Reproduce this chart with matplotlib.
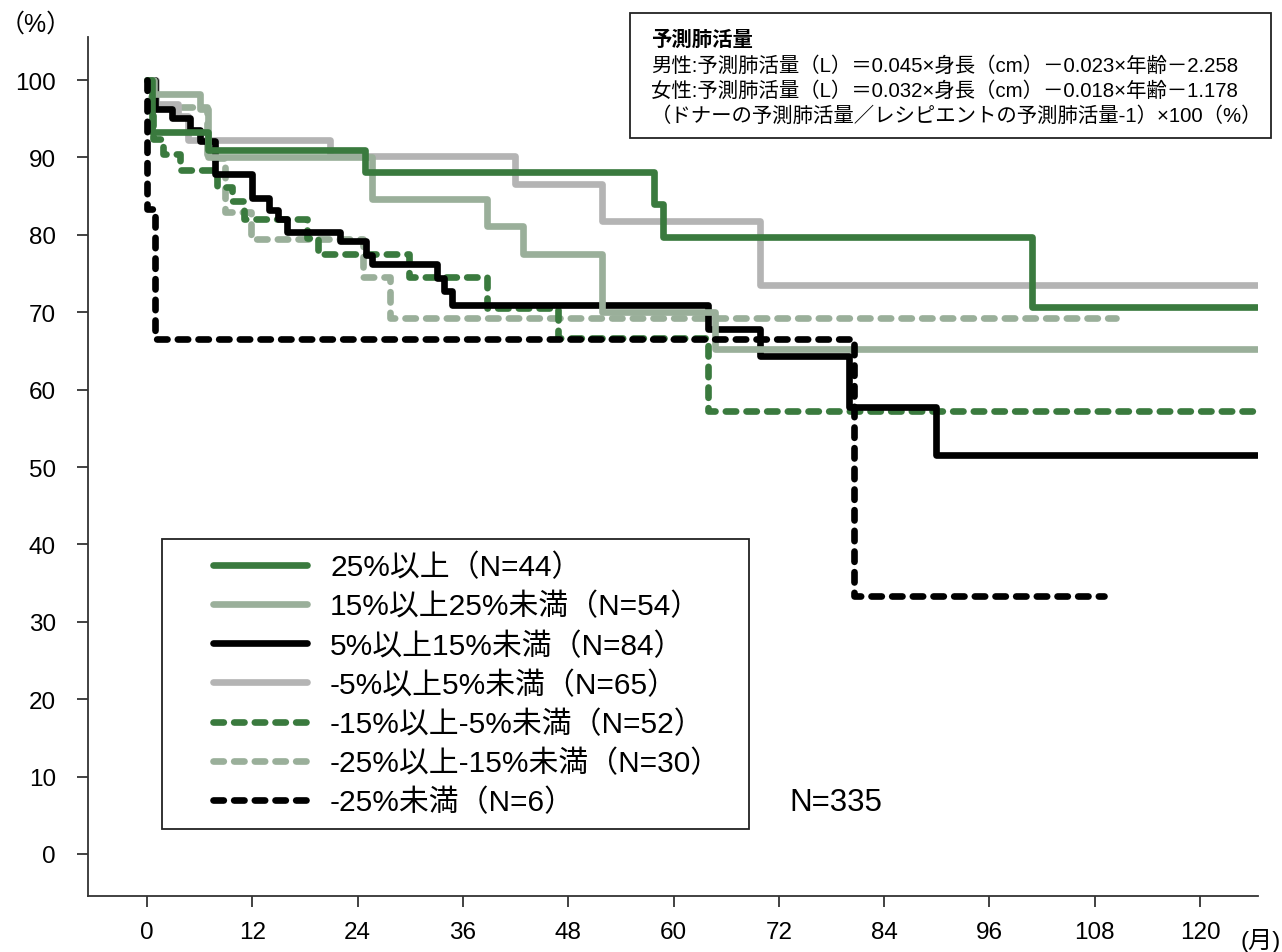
import matplotlib
matplotlib.use("Agg")
import matplotlib.pyplot as plt
from matplotlib.patches import Rectangle

plt.rcParams["font.family"] = ["Liberation Sans", "Noto Sans CJK JP"]

# 生存率 (%) vs 月, step-post
months_25 = [0, 0.6, 7.0, 24.9, 57.8, 58.8, 100.8, 126.5]
surv_25 = [100, 93.3, 90.9, 88.1, 84.0, 79.7, 70.7, 70.7]

months_15 = [0, 0.8, 6.0, 7.0, 25.6, 38.8, 42.8, 51.9, 64.7, 126.5]
surv_15 = [100, 98.2, 96.3, 90.0, 84.6, 81.2, 77.5, 70.0, 65.2, 65.2]

months_5 = [0, 0.9, 2.8, 4.9, 6.0, 7.7, 12.0, 13.9, 14.9, 15.9, 22.0,
            25.0, 25.6, 33.0, 33.9, 34.8, 63.9, 69.8, 80.0, 89.9, 126.5]
surv_5 = [100, 96.2, 95.1, 93.6, 92.1, 87.8, 84.7, 83.2, 82.0, 80.4, 79.2,
          77.4, 76.2, 74.4, 72.8, 70.9, 67.8, 64.4, 57.7, 51.6, 51.6]

months_m5 = [0, 1.0, 3.5, 4.7, 20.8, 41.9, 51.8, 69.8, 126.5]
surv_m5 = [100, 96.9, 95.4, 92.3, 90.2, 86.6, 81.8, 73.5, 73.5]

months_m15 = [0, 0.7, 1.8, 3.8, 8.0, 9.7, 11.0, 18.2, 19.5, 29.9, 38.8, 46.8, 63.9, 126.2]
surv_m15 = [100, 92.4, 90.4, 88.4, 86.2, 84.4, 82.0, 79.6, 77.5, 74.5, 70.6, 66.7, 57.2, 57.2]

months_m25 = [0, 0.5, 6.8, 8.9, 11.9, 24.6, 27.7, 110.4]
surv_m25 = [100, 96.5, 89.9, 82.9, 79.5, 74.5, 69.2, 69.2]

months_lt = [0, 0.05, 0.9, 80.6, 109.1]
surv_lt = [100, 83.3, 66.6, 33.3, 33.3]

labels = [
    "25%以上（N=44）",
    "15%以上25%未満（N=54）",
    "5%以上15%未満（N=84）",
    "-5%以上5%未満（N=65）",
    "-15%以上-5%未満（N=52）",
    "-25%以上-15%未満（N=30）",
    "-25%未満（N=6）",
]
x_ticks = list(range(0, 121, 12))
y_ticks = list(range(0, 101, 10))

GREEN = "#3a7a3e"
SAGE = "#9aaf9a"
GREY = "#b4b4b4"
BLACK = "#000000"

series = [
    (months_25, surv_25, GREEN, "-"),
    (months_15, surv_15, SAGE, "-"),
    (months_5, surv_5, BLACK, "-"),
    (months_m5, surv_m5, GREY, "-"),
    (months_m15, surv_m15, GREEN, "--"),
    (months_m25, surv_m25, SAGE, "--"),
    (months_lt, surv_lt, BLACK, "--"),
]

W, H = 1282, 953
fig = plt.figure(figsize=(W / 100, H / 100), dpi=100)
ax = fig.add_axes([88 / W, 1 - 897 / H, (1258 - 88) / W, (897 - 38) / H])

handles = []
for i, (mx, sy, col, ls) in enumerate(series):
    z = 3 + (len(series) - i)
    if ls == "--":
        (ln,) = ax.plot(mx, sy, drawstyle="steps-post", color=col, lw=4.8,
                        linestyle=(0, (1.55, 1.55)), dash_capstyle="round",
                        solid_capstyle="round", zorder=z)
    else:
        (ln,) = ax.plot(mx, sy, drawstyle="steps-post", color=col, lw=4.8,
                        solid_capstyle="round", solid_joinstyle="round", zorder=z)
    if i == len(series) - 1:
        ln.set_zorder(20)
    handles.append(ln)

ax.set_xlim(-6.72, 126.6)
ax.set_ylim(-5.43, 105.56)
ax.set_xticks(x_ticks)
ax.set_yticks(y_ticks)
for s in ["top", "right"]:
    ax.spines[s].set_visible(False)
for s in ["left", "bottom"]:
    ax.spines[s].set_color("#333333")
    ax.spines[s].set_linewidth(1.3)
ax.tick_params(axis="both", direction="out", length=8, width=1.3, color="#333333", labelsize=17.5)
ax.tick_params(axis="y", pad=15)
ax.tick_params(axis="x", pad=10)

leg = ax.legend(handles, labels, loc="upper left", bbox_to_anchor=(213 / W, 1 - 554 / H),
                bbox_transform=fig.transFigure, frameon=False, fontsize=21.5,
                handlelength=3.15, handletextpad=0.77, labelspacing=0.36,
                borderpad=0, borderaxespad=0)
fig.add_artist(Rectangle((162 / W, 1 - 830 / H), (749 - 162) / W, (830 - 540) / H,
                         transform=fig.transFigure, fill=False, ec="#222222", lw=1.3))

fig.text(836 / W, 1 - 803 / H, "N=335", fontsize=22.5, ha="center", va="center")
fig.text(0, 1 - 25 / H, "（%）", fontsize=18, ha="left", va="center")
fig.text(1281 / W, 1 - 941 / H, "(月)", fontsize=17.5, ha="right", va="center")

# 予測肺活量の式
fig.add_artist(Rectangle((630 / W, 1 - 139 / H), (1271 - 630) / W, (139 - 14) / H,
                         transform=fig.transFigure, fill=False, ec="#222222", lw=1.3))
note_lines = [
    "男性:予測肺活量（L）＝0.045×身長（cm）－0.023×年齢－2.258",
    "女性:予測肺活量（L）＝0.032×身長（cm）－0.018×年齢－1.178",
    "（ドナーの予測肺活量／レシピエントの予測肺活量-1）×100（%）",
]
fig.text(651 / W, 1 - 40 / H, "予測肺活量", fontsize=14.7, fontweight="bold", va="center")
for k, t in enumerate(note_lines):
    fig.text(651 / W, 1 - (66 + 25 * k) / H, t, fontsize=14.7, va="center")

fig.savefig("out.png", dpi=100)
